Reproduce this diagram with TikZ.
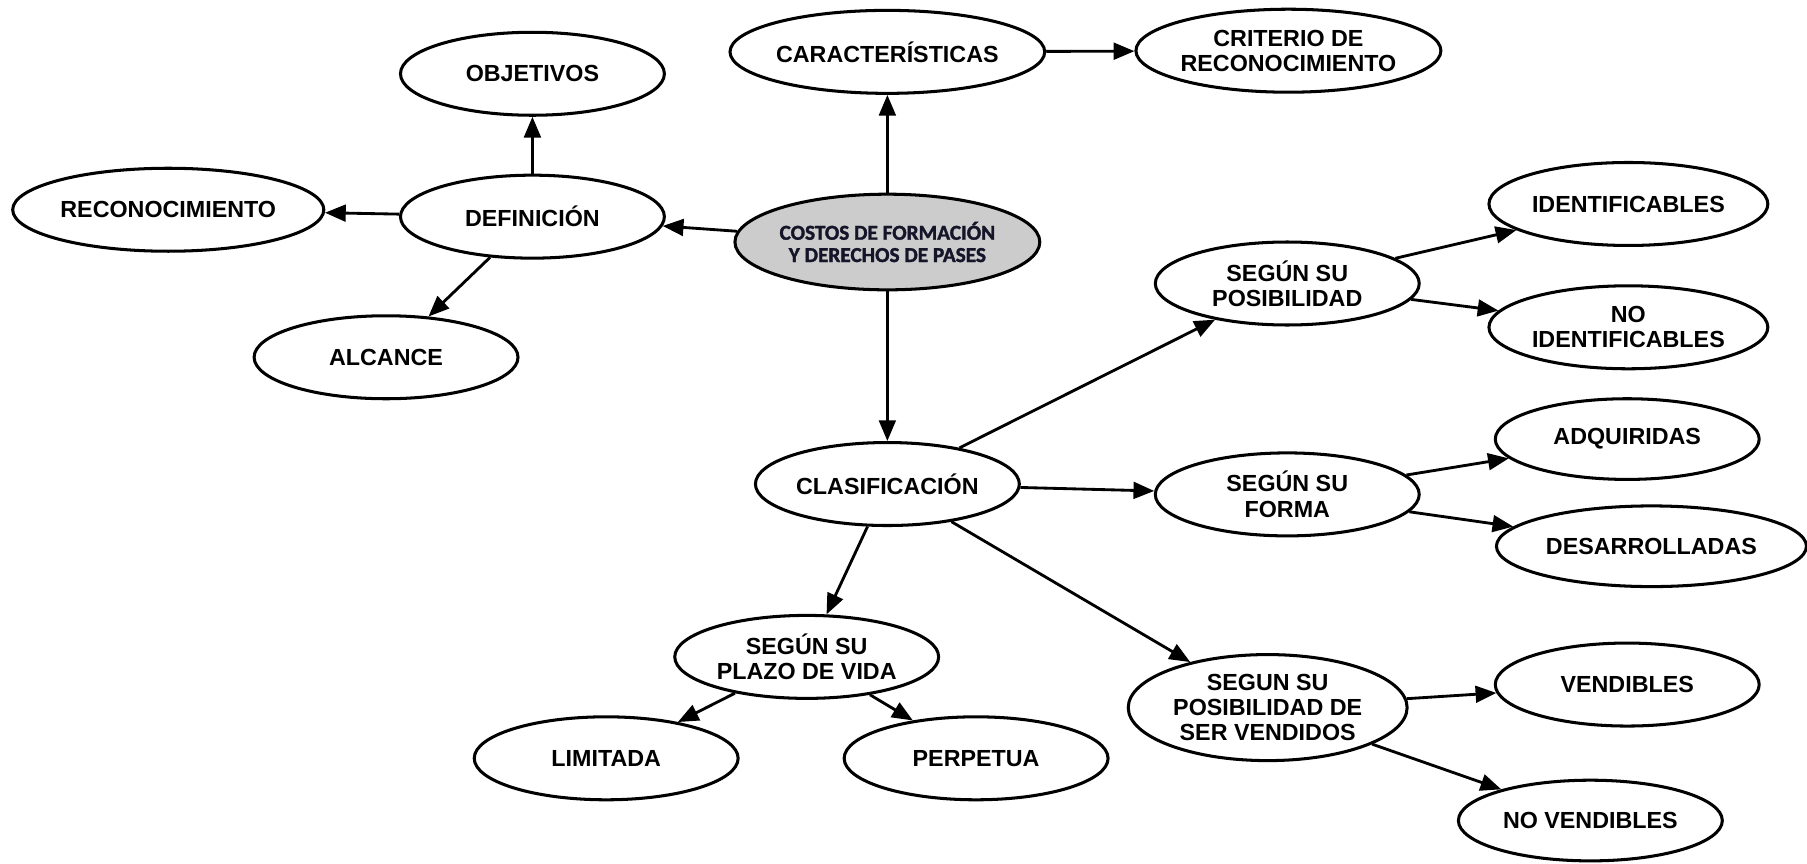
\documentclass[tikz,border=0pt]{standalone}
\usepackage{fontspec}
\setmainfont{Liberation Sans}
\newfontfamily\calibfont{Carlito-Bold.ttf}[FakeBold=1.6]
\usetikzlibrary{shapes.geometric, arrows.meta}
\definecolor{tinta}{HTML}{15152A}

\begin{document}
\begin{tikzpicture}[
    idea/.style={ellipse, draw, line width=1.5pt, inner sep=0pt, minimum width=4.58cm, minimum height=1.44cm, align=center, font=\bfseries\fontsize{11.5}{12.5}\selectfont},
    raiz/.style={idea, fill=black!20, minimum width=5.14cm, minimum height=1.66cm, text=tinta, font=\calibfont\fontsize{10.5}{11}\selectfont},
    flecha/.style={-{Triangle[length=3.6mm,width=2.9mm]}, line width=1.4pt}]
    \useasboundingbox (0,0) rectangle (31.36,-14.98);
    \node[raiz] (costos) at (15.4,-4.2) {COSTOS DE FORMACIÓN\\Y DERECHOS DE PASES};
    \node[idea, minimum width=5.44cm] (caract) at (15.4,-0.9) {CARACTERÍSTICAS};
    \node[idea, minimum width=5.26cm] (criterio) at (22.36,-0.88) {CRITERIO DE\\RECONOCIMIENTO};
    \node[idea] (objetivos) at (9.24,-1.28) {OBJETIVOS};
    \node[idea] (definicion) at (9.24,-3.76) {DEFINICIÓN};
    \node[idea, minimum width=5.4cm] (reconoc) at (2.92,-3.64) {RECONOCIMIENTO};
    \node[idea] (alcance) at (6.7,-6.2) {ALCANCE};
    \node[idea] (clasif) at (15.4,-8.4) {CLASIFICACIÓN};
    \node[idea] (posib) at (22.34,-4.92) {SEGÚN SU\\POSIBILIDAD};
    \node[idea, minimum width=4.84cm] (identif) at (28.26,-3.54) {IDENTIFICABLES};
    \node[idea, minimum width=4.84cm] (noident) at (28.26,-5.68) {NO\\IDENTIFICABLES};
    \node[idea] (forma) at (22.34,-8.58) {SEGÚN SU\\FORMA};
    \node[idea, minimum height=1.4cm] (adquir) at (28.24,-7.62) {ADQUIRIDAS};
    \node[idea, minimum width=5.38cm, minimum height=1.4cm] (desarr) at (28.66,-9.48) {DESARROLLADAS};
    \node[idea, minimum width=4.84cm, minimum height=1.84cm] (vendidos) at (22.0,-12.28) {SEGUN SU\\POSIBILIDAD DE\\SER VENDIDOS};
    \node[idea] (vendibles) at (28.24,-11.88) {VENDIBLES};
    \node[idea, minimum height=1.4cm] (novend) at (27.6,-14.24) {NO VENDIBLES};
    \node[idea] (plazo) at (14.0,-11.4) {SEGÚN SU\\PLAZO DE VIDA};
    \node[idea] (limitada) at (10.52,-13.16) {LIMITADA};
    \node[idea] (perpetua) at (16.94,-13.16) {PERPETUA};
    \draw[flecha] (costos) -- (caract);
    \draw[flecha] (caract) -- (criterio);
    \draw[flecha] (costos) -- (definicion);
    \draw[flecha] (definicion) -- (objetivos);
    \draw[flecha] (definicion) -- (reconoc);
    \draw[flecha] (definicion) -- (alcance);
    \draw[flecha] (costos) -- (clasif);
    \draw[flecha] (clasif) -- (posib);
    \draw[flecha] (clasif) -- (forma);
    \draw[flecha] (clasif) -- (vendidos);
    \draw[flecha] (clasif) -- (plazo);
    \draw[flecha] (posib) -- (identif);
    \draw[flecha] (posib) -- (noident);
    \draw[flecha] (forma) -- (adquir);
    \draw[flecha] (forma) -- (desarr);
    \draw[flecha] (vendidos) -- (vendibles);
    \draw[flecha] (vendidos) -- (novend);
    \draw[flecha] (plazo) -- (limitada);
    \draw[flecha] (plazo) -- (perpetua);
\end{tikzpicture}
\end{document}
